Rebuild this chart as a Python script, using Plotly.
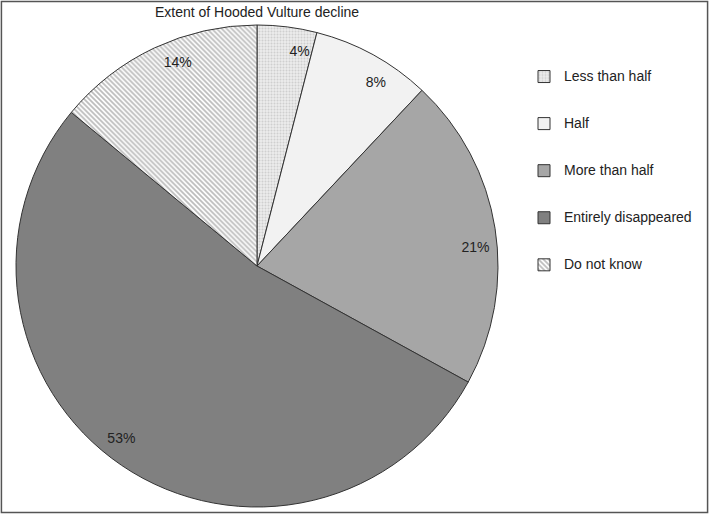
import plotly.graph_objects as go

categories = ["Less than half", "Half", "More than half", "Entirely disappeared", "Do not know"]
values = [4, 8, 21, 53, 14]
colors = ["#ebebeb", "#f2f2f2", "#a6a6a6", "#808080", "#ffffff"]
patterns = [".", "", "", "", "\\"]
pattern_fg = ["#b4b4b4", "#f2f2f2", "#a6a6a6", "#808080", "#7a7a7a"]
pattern_size = [3, 6, 6, 6, 3.5]
pattern_solidity = [0.35, 0.3, 0.3, 0.3, 0.5]
title_text = "Extent of Hooded Vulture decline"

W, H = 709, 514
cx, cy, R = 257, 266, 241
dom_x = [(cx - R) / W, (cx + R) / W]
dom_y = [(H - (cy + R)) / H, (H - (cy - R)) / H]

legend_labels = [f"<br><span style='font-size:14px'>{c}</span><br> " for c in categories]

fig = go.Figure()
# main pie with fills and legend
fig.add_trace(go.Pie(
    labels=legend_labels, values=values, sort=False, direction="clockwise", rotation=0,
    marker=dict(colors=colors, line=dict(color="#333333", width=1),
                pattern=dict(shape=patterns, fgcolor=pattern_fg, size=pattern_size,
                             solidity=pattern_solidity, fillmode="overlay")),
    textinfo="none", domain=dict(x=dom_x, y=dom_y), showlegend=True, hoverinfo="skip",
))
# transparent ring carrying the percentage labels near the rim
fig.add_trace(go.Pie(
    labels=legend_labels, values=values, sort=False, direction="clockwise", rotation=4, hole=0.82,
    marker=dict(colors=["rgba(0,0,0,0)"] * len(values), line=dict(width=0)),
    texttemplate="%{percent:.0%}", textposition="inside", insidetextorientation="horizontal",
    textfont=dict(family="Liberation Sans, Arial", size=14, color="#222222"),
    domain=dict(x=dom_x, y=dom_y), showlegend=False, hoverinfo="skip",
))

fig.update_layout(
    width=W, height=H, margin=dict(l=0, r=0, t=0, b=0),
    paper_bgcolor="white", plot_bgcolor="white",
    font=dict(family="Liberation Sans, Arial", size=14, color="#222222"),
    title=dict(text=title_text, x=cx / W, xanchor="center", y=1 - 12 / H, yanchor="middle",
               font=dict(size=14, color="#222222")),
    legend=dict(x=524 / W, y=1 - 48 / H, xanchor="left", yanchor="top",
                font=dict(size=11.3, color="#222222"), bgcolor="rgba(0,0,0,0)"),
    shapes=[dict(type="rect", xref="paper", yref="paper", x0=0.002, x1=0.998, y0=0.003, y1=0.997,
                 line=dict(color="#555555", width=1.5), fillcolor="rgba(0,0,0,0)")],
)

fig.write_html("out.html", config={"displayModeBar": False},
               post_script="document.body.style.margin='0';")
